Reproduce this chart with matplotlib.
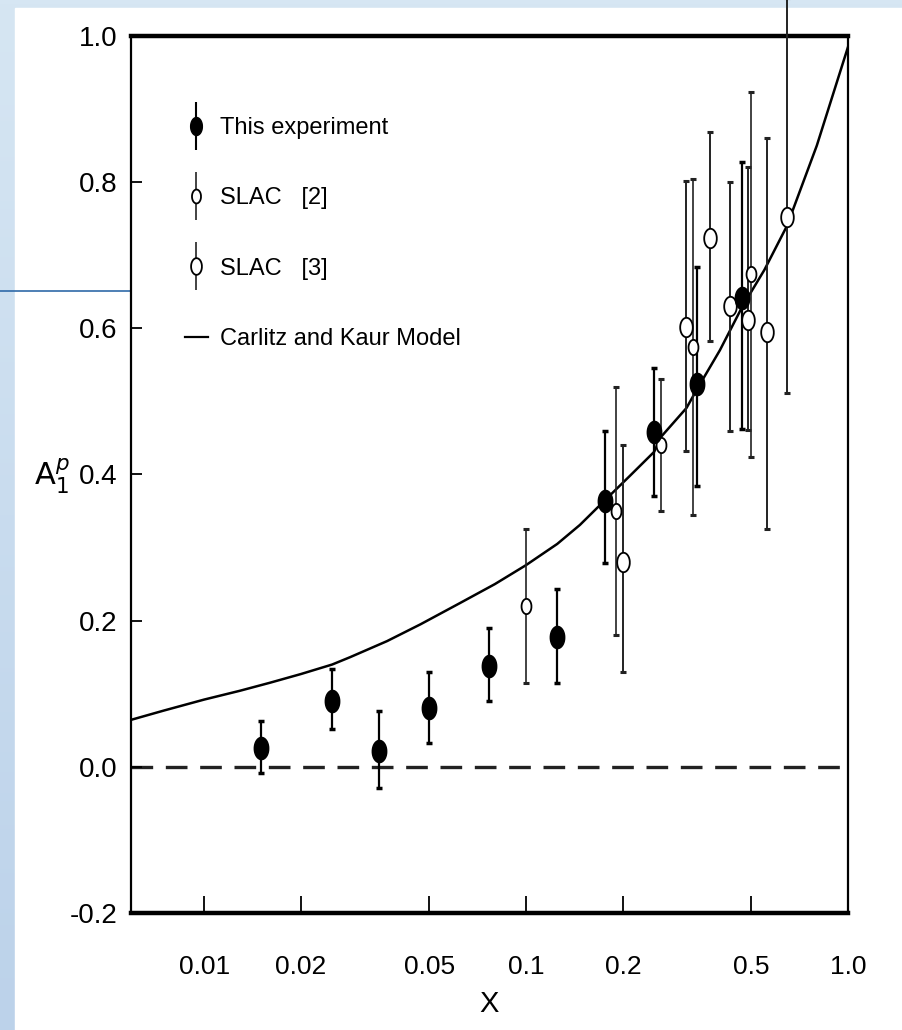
import numpy as np
import matplotlib
matplotlib.use('Agg')
import matplotlib.pyplot as plt
from matplotlib.patches import Rectangle
from matplotlib.lines import Line2D
from matplotlib.colors import LinearSegmentedColormap
from matplotlib.legend_handler import HandlerTuple

plt.rcParams['font.family'] = ['Liberation Sans', 'DejaVu Sans']

# this experiment (filled)
exp_x = [0.015, 0.025, 0.035, 0.05, 0.077, 0.125, 0.176, 0.25, 0.34, 0.47]
exp_y = [0.026, 0.090, 0.021, 0.080, 0.138, 0.177, 0.364, 0.458, 0.524, 0.642]
exp_up = [0.037, 0.044, 0.056, 0.050, 0.052, 0.067, 0.095, 0.088, 0.160, 0.185]
exp_dn = [0.034, 0.038, 0.050, 0.047, 0.048, 0.062, 0.085, 0.088, 0.140, 0.180]

# SLAC [2] (small open markers)
s2_x = [0.1, 0.19, 0.262, 0.33, 0.50]
s2_y = [0.22, 0.35, 0.44, 0.575, 0.674]
s2_err = [0.105, 0.17, 0.09, 0.23, 0.25]

# SLAC [3] (open circles)
s3_x = [0.2, 0.315, 0.373, 0.43, 0.489, 0.56, 0.646]
s3_y = [0.28, 0.602, 0.723, 0.63, 0.611, 0.595, 0.752]
s3_up = [0.16, 0.20, 0.145, 0.17, 0.21, 0.265, 0.30]
s3_dn = [0.15, 0.17, 0.14, 0.17, 0.15, 0.27, 0.24]

# Carlitz and Kaur model curve
mod_x = [0.0059, 0.0075, 0.01, 0.0129, 0.016, 0.02, 0.025, 0.0284, 0.037, 0.047,
         0.0623, 0.08, 0.1, 0.125, 0.147, 0.176, 0.21, 0.25, 0.262, 0.315, 0.34,
         0.40, 0.47, 0.55, 0.646, 0.80, 1.0]
mod_y = [0.064, 0.077, 0.092, 0.104, 0.115, 0.127, 0.140, 0.150, 0.172, 0.195,
         0.224, 0.250, 0.276, 0.305, 0.331, 0.365, 0.398, 0.431, 0.451, 0.491, 0.517,
         0.570, 0.630, 0.680, 0.740, 0.850, 0.985]

xticks = [0.01, 0.02, 0.05, 0.1, 0.2, 0.5, 1.0]
xlabels = ['0.01', '0.02', '0.05', '0.1', '0.2', '0.5', '1.0']
yticks = [-0.2, 0.0, 0.2, 0.4, 0.6, 0.8, 1.0]

W, H = 903, 1030
fig = plt.figure(figsize=(W/100, H/100), dpi=100)

# slide background
bg = fig.add_axes([0, 0, 1, 1], zorder=-10)
grad = np.linspace(0, 1, 256).reshape(-1, 1)
cm = LinearSegmentedColormap.from_list('bg', ['#d6e6f3', '#bcd2ea'])
bg.imshow(grad, aspect='auto', cmap=cm, extent=[0, 1, 0, 1])
bg.add_patch(Rectangle((15/W, 0), 1, 1 - 8/H, color='white'))
bg.plot([0, 130/W], [1 - 291/H, 1 - 291/H], color='#2f6aa8', lw=1.2)
bg.set_xlim(0, 1); bg.set_ylim(0, 1)
bg.axis('off')

ax = fig.add_axes([131/W, 1 - 913/H, (848-131)/W, (913-36)/H])
ax.set_facecolor('none')

# vertically elongated ellipse marker
t = np.linspace(0, 2*np.pi, 40)
ell = list(zip(0.65*np.cos(t), np.sin(t)))

ax.axhline(0, color='#222222', lw=2.4, ls=(0, (6.5, 3.8)), zorder=1)
ax.plot(mod_x, mod_y, color='black', lw=1.8, zorder=2)

ax.errorbar(exp_x, exp_y, yerr=[exp_dn, exp_up], fmt='none', ecolor='black',
            elinewidth=1.6, capsize=2.5, capthick=2.5, zorder=3)
ax.plot(exp_x, exp_y, ls='none', marker=ell, ms=16, mfc='black', mec='black', zorder=5)
ax.errorbar(s2_x, s2_y, yerr=s2_err, fmt='none', ecolor='#222222',
            elinewidth=1.2, capsize=2.5, capthick=2.2, zorder=3)
ax.plot(s2_x, s2_y, ls='none', marker=ell, ms=11, mfc='white', mec='black', mew=1.3, zorder=4)
e3 = ax.errorbar(s3_x, s3_y, yerr=[s3_dn, s3_up], fmt='none', ecolor='#222222',
                 elinewidth=1.4, capsize=2.5, capthick=2.2, zorder=3)
for ln in list(e3.lines[1]) + list(e3.lines[2]):
    ln.set_clip_on(False)
ax.plot(s3_x, s3_y, ls='none', marker=ell, ms=14, mfc='white', mec='black', mew=1.3, zorder=4)

ax.set_xscale('log')
ax.set_xlim(0.00593, 1.0)
ax.set_ylim(-0.2, 1.0)
ax.set_xticks(xticks)
ax.set_xticklabels(xlabels)
ax.minorticks_off()
ax.set_yticks(yticks)
ax.set_yticklabels(['%.1f' % v for v in yticks])
ax.tick_params(axis='x', direction='in', length=12, width=1.3, pad=30, labelsize=19)
ax.tick_params(axis='y', direction='in', length=8, width=1.3, pad=10, labelsize=20)
for s in ['top', 'bottom']:
    ax.spines[s].set_linewidth(3.2)
for s in ['left', 'right']:
    ax.spines[s].set_linewidth(1.6)

ax.set_xlabel('X', fontsize=21, labelpad=8)
fig.text(52/W, 1 - 476/H, r'$\mathsf{A}_1^p$', fontsize=22, ha='center', va='center')

# legend
leg_handles = [
    (Line2D([], [], ls='none', marker='|', ms=34, mew=1.5, color='black'),
     Line2D([], [], ls='none', marker=ell, ms=13, mfc='black', mec='black')),
    (Line2D([], [], ls='none', marker='|', ms=34, mew=1.2, color='#222222'),
     Line2D([], [], ls='none', marker=ell, ms=10, mfc='white', mec='black', mew=1.3)),
    (Line2D([], [], ls='none', marker='|', ms=34, mew=1.2, color='#222222'),
     Line2D([], [], ls='none', marker=ell, ms=12, mfc='white', mec='black', mew=1.3)),
    Line2D([], [], color='black', lw=1.6),
]
leg_labels = ['This experiment', 'SLAC   [2]', 'SLAC   [3]', 'Carlitz and Kaur Model']
ax.legend(leg_handles, leg_labels, loc='upper left', bbox_to_anchor=(0.045, 0.932),
          frameon=False, fontsize=17, handlelength=1.0, handletextpad=0.5,
          labelspacing=2.05, handler_map={tuple: HandlerTuple(ndivide=1, pad=0)})

fig.savefig('out.png', dpi=100)
